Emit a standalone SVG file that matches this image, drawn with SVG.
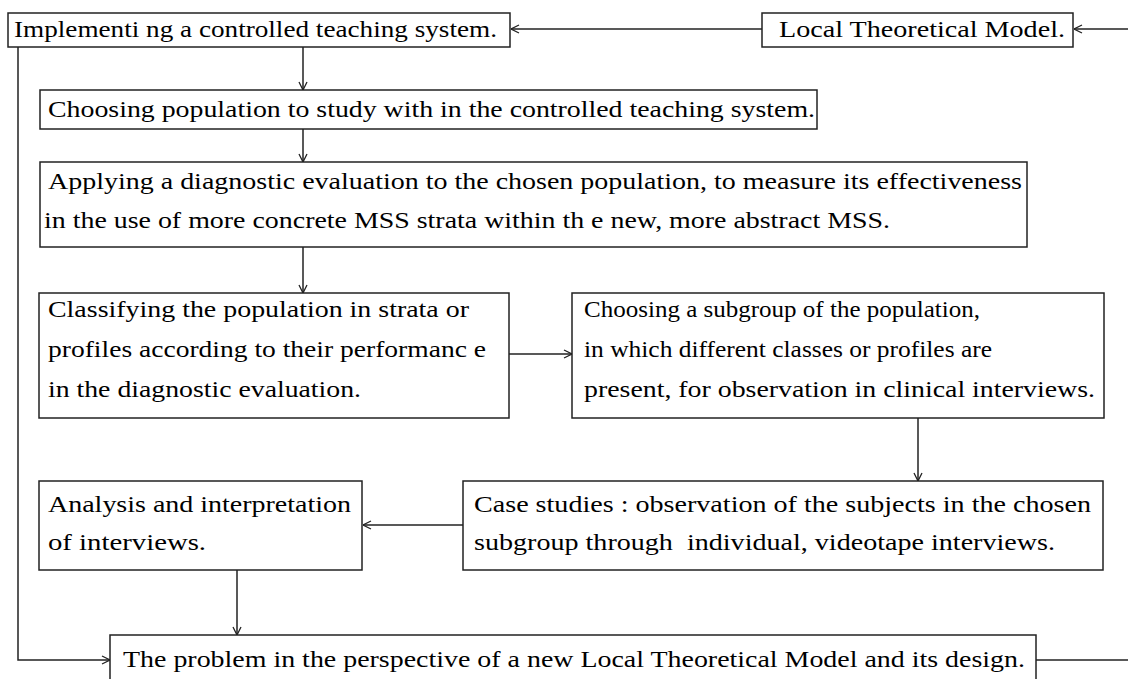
<svg xmlns="http://www.w3.org/2000/svg" width="1128" height="679" viewBox="0 0 1128 679">
<style>
.box{fill:#fff;stroke:#222;stroke-width:1.5}
.t{font-family:"Liberation Serif","Times New Roman",serif;font-size:24px;fill:#000}
.c{fill:none;stroke:#222;stroke-width:1.5}
</style>
<defs>
<marker id="ah" viewBox="0 0 10 10" refX="10" refY="5" markerWidth="10" markerHeight="10" markerUnits="userSpaceOnUse" orient="auto">
<polyline points="2,1 10,5 2,9" fill="none" stroke="#222" stroke-width="1.3"/>
</marker>
</defs>
<rect width="1128" height="679" fill="#fff"/>
<g id="connectors">
<line class="c" x1="1128" y1="29" x2="1074" y2="29" marker-end="url(#ah)"/>
<line class="c" x1="762" y1="29" x2="511" y2="29" marker-end="url(#ah)"/>
<line class="c" x1="303" y1="47" x2="303" y2="90" marker-end="url(#ah)"/>
<line class="c" x1="303" y1="129" x2="303" y2="162" marker-end="url(#ah)"/>
<line class="c" x1="303" y1="247" x2="303" y2="293" marker-end="url(#ah)"/>
<line class="c" x1="509" y1="354" x2="572" y2="354" marker-end="url(#ah)"/>
<line class="c" x1="918" y1="418" x2="918" y2="481" marker-end="url(#ah)"/>
<line class="c" x1="463" y1="525" x2="363" y2="525" marker-end="url(#ah)"/>
<line class="c" x1="237" y1="570" x2="237" y2="635" marker-end="url(#ah)"/>
<polyline class="c" points="18,47 18,660 110,660" marker-end="url(#ah)"/>
<line class="c" x1="1036" y1="660" x2="1128" y2="660"/>
</g>
<g id="n1"><rect class="box" x="8" y="13" width="502" height="34"/><text class="t" x="14" y="37" textLength="483" lengthAdjust="spacingAndGlyphs">Implementi ng a controlled teaching system.</text></g>
<g id="n0"><rect class="box" x="762" y="13" width="311" height="34"/><text class="t" x="779" y="37" textLength="286" lengthAdjust="spacingAndGlyphs">Local Theoretical Model.</text></g>
<g id="n2"><rect class="box" x="40" y="90" width="777" height="39"/><text class="t" x="48" y="117" textLength="767" lengthAdjust="spacingAndGlyphs">Choosing population to study with in the controlled teaching system.</text></g>
<g id="n3"><rect class="box" x="40" y="162" width="987" height="85"/><text class="t" x="48" y="189" textLength="974" lengthAdjust="spacingAndGlyphs">Applying a diagnostic evaluation to the chosen population, to measure its effectiveness</text><text class="t" x="44" y="228" textLength="846" lengthAdjust="spacingAndGlyphs">in the use of more concrete MSS strata within th e new, more abstract MSS.</text></g>
<g id="n4"><rect class="box" x="39" y="293" width="470" height="125"/><text class="t" x="48" y="317" textLength="421" lengthAdjust="spacingAndGlyphs">Classifying the population in strata or</text><text class="t" x="48" y="357" textLength="438" lengthAdjust="spacingAndGlyphs">profiles according to their performanc e</text><text class="t" x="48" y="397" textLength="313" lengthAdjust="spacingAndGlyphs">in the diagnostic evaluation.</text></g>
<g id="n5"><rect class="box" x="572" y="293" width="532" height="125"/><text class="t" x="584" y="317" textLength="396" lengthAdjust="spacingAndGlyphs">Choosing a subgroup of the population,</text><text class="t" x="584" y="357" textLength="408" lengthAdjust="spacingAndGlyphs">in which different classes or profiles are</text><text class="t" x="584" y="397" textLength="511" lengthAdjust="spacingAndGlyphs">present, for observation in clinical interviews.</text></g>
<g id="n6"><rect class="box" x="463" y="481" width="640" height="89"/><text class="t" x="474" y="512" textLength="617" lengthAdjust="spacingAndGlyphs">Case studies : observation of the subjects in the chosen</text><text class="t" x="474" y="550" textLength="581" lengthAdjust="spacingAndGlyphs" xml:space="preserve">subgroup through  individual, videotape interviews.</text></g>
<g id="n7"><rect class="box" x="39" y="481" width="323" height="89"/><text class="t" x="48" y="512" textLength="303" lengthAdjust="spacingAndGlyphs">Analysis and interpretation</text><text class="t" x="48" y="550" textLength="158" lengthAdjust="spacingAndGlyphs">of interviews.</text></g>
<g id="n8"><rect class="box" x="110" y="635" width="926" height="60"/><text class="t" x="123" y="667" textLength="902" lengthAdjust="spacingAndGlyphs">The problem in the perspective of a new Local Theoretical Model and its design.</text></g>
</svg>
